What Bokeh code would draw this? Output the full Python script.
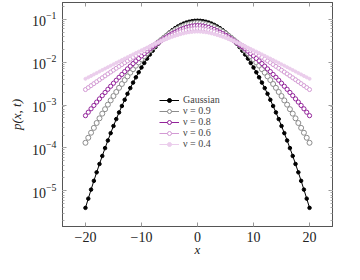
from bokeh.plotting import figure
from bokeh.models import (LinearAxis, LogAxis, LogTicker, FixedTicker, Legend, LegendItem,
                          Range1d, CustomJSTickFormatter)
from bokeh.embed import file_html
from bokeh.resources import INLINE

# x grid (step 0.5)
x = [-20.0, -19.5, -19.0, -18.5, -18.0, -17.5, -17.0, -16.5, -16.0, -15.5, -15.0, -14.5, -14.0, -13.5,
     -13.0, -12.5, -12.0, -11.5, -11.0, -10.5, -10.0, -9.5, -9.0, -8.5, -8.0, -7.5, -7.0, -6.5, -6.0,
     -5.5, -5.0, -4.5, -4.0, -3.5, -3.0, -2.5, -2.0, -1.5, -1.0, -0.5, 0.0, 0.5, 1.0, 1.5, 2.0, 2.5,
     3.0, 3.5, 4.0, 4.5, 5.0, 5.5, 6.0, 6.5, 7.0, 7.5, 8.0, 8.5, 9.0, 9.5, 10.0, 10.5, 11.0, 11.5,
     12.0, 12.5, 13.0, 13.5, 14.0, 14.5, 15.0, 15.5, 16.0, 16.5, 17.0, 17.5, 18.0, 18.5, 19.0, 19.5, 20.0]

# log10 p(x,t)
log_gauss = [-5.396, -5.181, -4.971, -4.767, -4.568, -4.374, -4.186, -4.004, -3.826, -3.655, -3.489,
             -3.328, -3.172, -3.023, -2.878, -2.739, -2.606, -2.478, -2.355, -2.238, -2.126, -2.020,
             -1.919, -1.824, -1.734, -1.649, -1.570, -1.497, -1.428, -1.366, -1.309, -1.257, -1.210,
             -1.170, -1.134, -1.104, -1.080, -1.061, -1.047, -1.039, -1.036, -1.039, -1.047, -1.061,
             -1.080, -1.104, -1.134, -1.170, -1.210, -1.257, -1.309, -1.366, -1.428, -1.497, -1.570,
             -1.649, -1.734, -1.824, -1.919, -2.020, -2.126, -2.238, -2.355, -2.478, -2.606, -2.739,
             -2.878, -3.023, -3.172, -3.328, -3.489, -3.655, -3.826, -4.004, -4.186, -4.374, -4.568,
             -4.767, -4.971, -5.181, -5.396]
log_nu09 = [-3.880, -3.763, -3.646, -3.533, -3.419, -3.310, -3.201, -3.097, -2.992, -2.892, -2.791,
            -2.696, -2.600, -2.510, -2.419, -2.333, -2.246, -2.165, -2.084, -2.008, -1.932, -1.862,
            -1.791, -1.726, -1.660, -1.600, -1.540, -1.487, -1.433, -1.385, -1.337, -1.296, -1.255,
            -1.221, -1.187, -1.161, -1.135, -1.118, -1.102, -1.093, -1.090, -1.093, -1.102, -1.118,
            -1.135, -1.161, -1.187, -1.221, -1.255, -1.296, -1.337, -1.385, -1.433, -1.487, -1.540,
            -1.600, -1.660, -1.726, -1.791, -1.862, -1.932, -2.008, -2.084, -2.165, -2.246, -2.333,
            -2.419, -2.510, -2.600, -2.696, -2.791, -2.892, -2.992, -3.097, -3.201, -3.310, -3.419,
            -3.533, -3.646, -3.763, -3.880]
log_nu08 = [-3.248, -3.168, -3.088, -3.010, -2.932, -2.857, -2.781, -2.708, -2.634, -2.563, -2.492,
            -2.423, -2.354, -2.288, -2.222, -2.159, -2.095, -2.034, -1.973, -1.915, -1.856, -1.801,
            -1.746, -1.694, -1.642, -1.594, -1.545, -1.501, -1.456, -1.416, -1.375, -1.339, -1.303,
            -1.272, -1.241, -1.217, -1.193, -1.177, -1.161, -1.153, -1.150, -1.153, -1.161, -1.177,
            -1.193, -1.217, -1.241, -1.272, -1.303, -1.339, -1.375, -1.416, -1.456, -1.501, -1.545,
            -1.594, -1.642, -1.694, -1.746, -1.801, -1.856, -1.915, -1.973, -2.034, -2.095, -2.159,
            -2.222, -2.288, -2.354, -2.423, -2.492, -2.563, -2.634, -2.708, -2.781, -2.857, -2.932,
            -3.010, -3.088, -3.168, -3.248]
log_nu06 = [-2.640, -2.594, -2.548, -2.502, -2.456, -2.411, -2.366, -2.321, -2.276, -2.232, -2.188,
            -2.144, -2.101, -2.058, -2.015, -1.973, -1.931, -1.889, -1.848, -1.807, -1.767, -1.728,
            -1.689, -1.650, -1.612, -1.575, -1.539, -1.504, -1.470, -1.437, -1.405, -1.375, -1.346,
            -1.320, -1.295, -1.274, -1.255, -1.241, -1.229, -1.222, -1.220, -1.222, -1.229, -1.241,
            -1.255, -1.274, -1.295, -1.320, -1.346, -1.375, -1.405, -1.437, -1.470, -1.504, -1.539,
            -1.575, -1.612, -1.650, -1.689, -1.728, -1.767, -1.807, -1.848, -1.889, -1.931, -1.973,
            -2.015, -2.058, -2.101, -2.144, -2.188, -2.232, -2.276, -2.321, -2.366, -2.411, -2.456,
            -2.502, -2.548, -2.594, -2.640]
log_nu04 = [-2.390, -2.356, -2.322, -2.288, -2.254, -2.220, -2.186, -2.152, -2.119, -2.085, -2.052,
            -2.018, -1.985, -1.952, -1.919, -1.886, -1.854, -1.821, -1.789, -1.757, -1.725, -1.694,
            -1.663, -1.632, -1.602, -1.573, -1.544, -1.516, -1.488, -1.462, -1.436, -1.412, -1.389,
            -1.368, -1.349, -1.332, -1.317, -1.306, -1.297, -1.292, -1.290, -1.292, -1.297, -1.306,
            -1.317, -1.332, -1.349, -1.368, -1.389, -1.412, -1.436, -1.462, -1.488, -1.516, -1.544,
            -1.573, -1.602, -1.632, -1.663, -1.694, -1.725, -1.757, -1.789, -1.821, -1.854, -1.886,
            -1.919, -1.952, -1.985, -2.018, -2.052, -2.085, -2.119, -2.152, -2.186, -2.220, -2.254,
            -2.288, -2.322, -2.356, -2.390]

labels = ["Gaussian", "ν = 0.9", "ν = 0.8", "ν = 0.6", "ν = 0.4"]
x_ticks = [-20, -10, 0, 10, 20]
x_tick_labels = {-20: "−20", -10: "−10", 0: "0", 10: "10", 20: "20"}

FONT = "Liberation Serif"

p = figure(width=352, height=269, output_backend="svg", toolbar_location=None,
           y_axis_type="log",
           x_range=Range1d(-24.1, 24.1), y_range=Range1d(10 ** -5.83, 10 ** -0.612),
           min_border_left=62, min_border_right=20, min_border_top=2, min_border_bottom=43)
p.grid.visible = False
p.outline_line_color = "#555555"
p.outline_line_width = 1
p.background_fill_color = "white"
p.border_fill_color = "white"

series = [
    (log_gauss, "black", "black", 3.5),
    (log_nu09, "#8c8c8c", "white", 5.0),
    (log_nu08, "#93249a", "white", 4.2),
    (log_nu06, "#d39ad4", "white", 4.0),
    (log_nu04, "#ebcdec", "#ebcdec", 3.0),
]

items = []
for (lv, col, fill, size), lab in zip(series, labels):
    yv = [10 ** v for v in lv]
    r1 = p.line(x, yv, line_color=col, line_width=1)
    r2 = p.scatter(x, yv, marker="circle", size=size, line_color=col, fill_color=fill, line_width=1)
    items.append(LegendItem(label=lab, renderers=[r1, r2]))

legend = Legend(items=items, location=(97, 77), padding=0, margin=0, spacing=0,
                glyph_width=20, glyph_height=10, label_height=10, label_standoff=4,
                label_text_font=FONT, label_text_font_size="10px",
                border_line_color=None, background_fill_alpha=0)
p.add_layout(legend, "center")

for ax in [p.xaxis[0], p.yaxis[0]]:
    ax.major_label_text_font = FONT
    ax.major_label_text_font_size = "14px"
    ax.major_label_text_color = "#222222"
    ax.axis_label_text_font = FONT
    ax.axis_label_text_font_style = "italic"
    ax.axis_label_text_font_size = "13px"
    ax.axis_label_text_color = "#222222"
    ax.major_tick_in = 4
    ax.major_tick_out = 0
    ax.minor_tick_in = 2
    ax.minor_tick_out = 0
    ax.major_tick_line_color = "#999999"
    ax.minor_tick_line_color = "#aaaaaa"
    ax.axis_line_color = "#555555"

p.xaxis.ticker = FixedTicker(ticks=x_ticks)
p.xaxis.major_label_overrides = x_tick_labels
p.xaxis.minor_tick_line_color = None
p.xaxis.axis_label = "x"
p.xaxis.major_label_standoff = 5
p.xaxis.axis_label_standoff = -3
p.yaxis.ticker = LogTicker(desired_num_ticks=6, num_minor_ticks=10)
p.yaxis.axis_label = "p(x, t)"
p.yaxis.major_label_standoff = 6

blank = CustomJSTickFormatter(code="return ''")
top = LinearAxis(ticker=FixedTicker(ticks=x_ticks), formatter=blank,
                 major_label_standoff=0, major_tick_in=4, major_tick_out=0,
                 minor_tick_line_color=None, major_tick_line_color="#999999",
                 axis_line_color="#555555")
p.add_layout(top, "above")
right = LogAxis(ticker=LogTicker(desired_num_ticks=6, num_minor_ticks=10), formatter=blank,
                major_label_standoff=0,
                major_tick_in=4, major_tick_out=0, minor_tick_in=2, minor_tick_out=0,
                major_tick_line_color="#999999", minor_tick_line_color="#aaaaaa",
                axis_line_color="#555555")
p.add_layout(right, "right")

open("out.html", "w").write(file_html(p, INLINE))
